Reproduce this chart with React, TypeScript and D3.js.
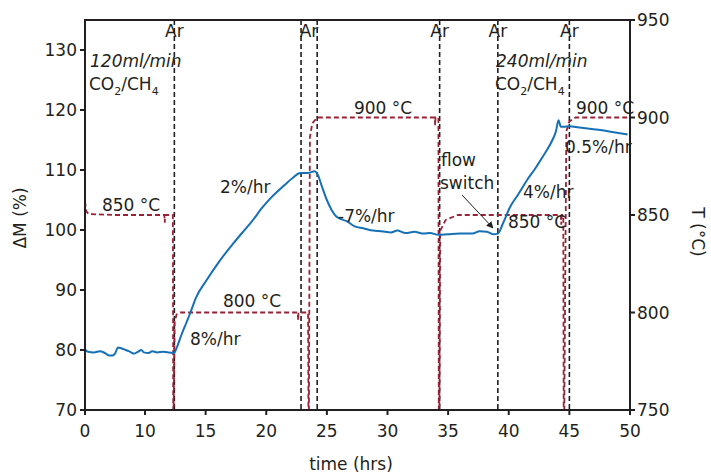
import { useEffect, useRef } from "react";
import * as d3 from "d3";

const TEXT = "#231f20";
const BLUE = "#1570b5";
const RED = "#9a2236";
const FONT = "'DejaVu Sans', sans-serif";

// time (hrs) vs mass change (%)
const massT = [0, 0.5, 1.5, 2.5, 3.3, 4.0, 4.6, 5.0, 5.5, 6.0, 6.8, 7.5, 8.2, 8.8, 9.4, 9.8, 10.3, 10.6, 11.0, 11.5, 12.0, 12.4,
  12.6, 13.0, 13.4, 13.7, 14.2, 15.1, 16.1, 17.3, 18.0, 18.8, 19.7, 20.5, 21.4, 22.2, 22.8, 23.4, 24.0, 24.2,
  24.6, 25.0, 25.4, 25.8, 26.7, 27.3, 28.0, 28.8, 29.5, 30.3, 30.8, 31.5, 32.2, 33.0, 33.5, 34.2,
  35.0, 36.0, 37.0, 37.6, 38.2, 38.7, 39.1, 39.5, 40.1, 40.8, 41.5, 42.2, 42.8, 43.6, 43.9, 44.1,
  44.3, 44.5, 45.0, 45.8, 47.4, 49.8];
const massV = [80.1, 79.7, 79.6, 79.8, 79.5, 79.1, 79.1, 79.4, 80.4, 80.3, 80.0, 79.7, 79.4, 79.7, 80.0, 79.6, 79.5, 79.8, 79.6, 79.7, 79.6, 79.5,
  80.3, 82.5, 84.5, 86.0, 88.7, 91.7, 94.7, 97.8, 99.5, 101.4, 103.8, 105.6, 107.3, 108.7, 109.5, 109.5, 109.8, 109.4,
  107.2, 105.0, 103.3, 102.2, 101.4, 100.6, 100.3, 99.9, 99.8, 99.6, 99.9, 99.5, 99.7, 99.4, 99.5, 99.2,
  99.3, 99.4, 99.4, 99.8, 99.7, 99.3, 99.4, 101.0, 103.8, 106.0, 108.3, 110.3, 112.2, 115.0, 116.5, 118.3,
  117.2, 117.2, 117.3, 117.1, 116.7, 115.9];

// time (hrs) vs furnace temperature (°C)
const tempT = [0, 0.2, 0.6, 5, 11.6, 11.63, 11.66, 12.3, 12.33, 12.36, 12.45, 12.6, 12.9,
  22.6, 22.63, 22.66, 23.45, 23.48, 23.52, 23.6, 23.8, 24.2,
  33.9, 33.93, 33.96, 34.2, 34.23, 34.28, 34.35, 34.8, 35.8,
  44.3, 44.33, 44.36, 44.5, 44.53, 44.58, 44.75, 45.0, 45.5, 50];
const tempV = [857, 852, 850.5, 850, 850, 846, 850, 850, 750, 750, 795, 799, 800,
  800, 796, 800, 800, 750, 750, 890, 897, 900,
  900, 896, 900, 900, 750, 750, 842, 847.5, 850,
  850, 845, 850, 850, 750, 750, 893, 898, 900, 900];

// Ar purge switch times
const arLines = [12.42, 22.87, 24.2, 34.3, 39.1, 45.0];
const arLabels = [12.42, 23.53, 34.3, 39.1, 45.0];

const xTicks = [0, 10, 15, 20, 25, 30, 35, 40, 45, 50];
const yTicks = [70, 80, 90, 100, 110, 120, 130];
const tTicks = [750, 800, 850, 900, 950];

export default function App() {
  const ref = useRef<SVGSVGElement>(null);

  useEffect(() => {
    const svg = d3.select(ref.current);
    svg.selectAll("*").remove();

    const left = 85, right = 630, top = 20, bottom = 410;
    // axis is compressed between 0 and 10 hrs
    const x = d3.scaleLinear().domain([0, 10, 50]).range([left, 145, right]);
    const y = d3.scaleLinear().domain([70, 135]).range([bottom, top]);
    const yT = d3.scaleLinear().domain([750, 950]).range([bottom, top]);

    const g = svg.append("g").attr("font-family", FONT).attr("fill", TEXT);

    // Ar lines
    arLines.forEach((t) => {
      g.append("line")
        .attr("x1", x(t)).attr("x2", x(t))
        .attr("y1", top).attr("y2", bottom)
        .attr("stroke", TEXT).attr("stroke-width", 1.6)
        .attr("stroke-dasharray", "5,3");
    });
    arLabels.forEach((t) => {
      g.append("text")
        .attr("x", x(t)).attr("y", 37)
        .attr("text-anchor", "middle").attr("font-size", 17)
        .text("Ar");
    });

    // temperature
    const tempPts = tempT.map((t, i) => [t, tempV[i]] as [number, number]);
    g.append("path")
      .attr("d", d3.line<[number, number]>().x((d) => x(d[0])).y((d) => yT(d[1]))(tempPts))
      .attr("fill", "none").attr("stroke", RED).attr("stroke-width", 1.8)
      .attr("stroke-dasharray", "5,3");

    // mass
    const massPts = massT.map((t, i) => [t, massV[i]] as [number, number]);
    g.append("path")
      .attr("d", d3.line<[number, number]>().x((d) => x(d[0])).y((d) => y(d[1]))
        .curve(d3.curveMonotoneX)(massPts))
      .attr("fill", "none").attr("stroke", BLUE).attr("stroke-width", 2);

    // frame
    g.append("rect")
      .attr("x", left).attr("y", top)
      .attr("width", right - left).attr("height", bottom - top)
      .attr("fill", "none").attr("stroke", TEXT).attr("stroke-width", 2);

    // ticks
    xTicks.forEach((v) => {
      g.append("line").attr("x1", x(v)).attr("x2", x(v)).attr("y1", bottom).attr("y2", bottom + 5)
        .attr("stroke", TEXT).attr("stroke-width", 2);
      g.append("text").attr("x", x(v)).attr("y", 437).attr("text-anchor", "middle")
        .attr("font-size", 17).text(v);
    });
    yTicks.forEach((v) => {
      g.append("line").attr("x1", left - 5).attr("x2", left).attr("y1", y(v)).attr("y2", y(v))
        .attr("stroke", TEXT).attr("stroke-width", 2);
      g.append("text").attr("x", 77).attr("y", y(v)).attr("dy", "0.36em").attr("text-anchor", "end")
        .attr("font-size", 17).text(v);
    });
    tTicks.forEach((v) => {
      g.append("line").attr("x1", right).attr("x2", right + 5).attr("y1", yT(v)).attr("y2", yT(v))
        .attr("stroke", TEXT).attr("stroke-width", 2);
      g.append("text").attr("x", 637).attr("y", yT(v)).attr("dy", "0.36em")
        .attr("font-size", 17).text(v);
    });

    // axis titles
    g.append("text").attr("x", 351).attr("y", 470).attr("text-anchor", "middle")
      .attr("font-size", 17).text("time (hrs)");
    g.append("text").attr("transform", "translate(26,218) rotate(-90)").attr("text-anchor", "middle")
      .attr("font-size", 17).text("ΔM (%)");
    g.append("text").attr("transform", "translate(692,232) rotate(90)").attr("text-anchor", "middle")
      .attr("font-size", 17).text("T (°C)");

    // flow annotations
    const flow = (px: number, rate: string) => {
      g.append("text").attr("x", px).attr("y", 67).attr("font-size", 17)
        .attr("font-style", "italic").text(rate);
      const t = g.append("text").attr("x", px - 1).attr("y", 90).attr("font-size", 17);
      t.append("tspan").text("CO");
      t.append("tspan").attr("font-size", 11).attr("dy", 5).text("2");
      t.append("tspan").attr("dy", -5).text("/CH");
      t.append("tspan").attr("font-size", 11).attr("dy", 5).text("4");
    };
    flow(90, "120ml/min");
    flow(496, "240ml/min");

    const label = (px: number, py: number, s: string, anchor = "start") =>
      g.append("text").attr("x", px).attr("y", py).attr("font-size", 17)
        .attr("text-anchor", anchor).text(s);
    label(131, 211, "850 °C", "middle");
    label(252, 307, "800 °C", "middle");
    label(383, 114, "900 °C", "middle");
    label(537, 228, "850 °C", "middle");
    label(605, 114, "900 °C", "middle");
    label(190, 345, "8%/hr");
    label(220, 193, "2%/hr");
    label(338, 222, "-7%/hr");
    label(523, 198, "4%/hr");
    label(565, 153, "0.5%/hr");
    label(441, 166, "flow");
    label(440, 189, "switch");

    // arrow for flow switch
    svg.append("defs").append("marker")
      .attr("id", "arr").attr("viewBox", "0 0 10 10").attr("refX", 9).attr("refY", 5)
      .attr("markerWidth", 7).attr("markerHeight", 7).attr("orient", "auto")
      .append("path").attr("d", "M0,0L10,5L0,10z").attr("fill", TEXT);
    g.append("line").attr("x1", 462).attr("y1", 195).attr("x2", 493).attr("y2", 228)
      .attr("stroke", TEXT).attr("stroke-width", 1).attr("marker-end", "url(#arr)");
  }, []);

  return (
    <svg ref={ref} width={711} height={474}
      style={{ position: "absolute", left: 0, top: 0, background: "#fff" }} />
  );
}
